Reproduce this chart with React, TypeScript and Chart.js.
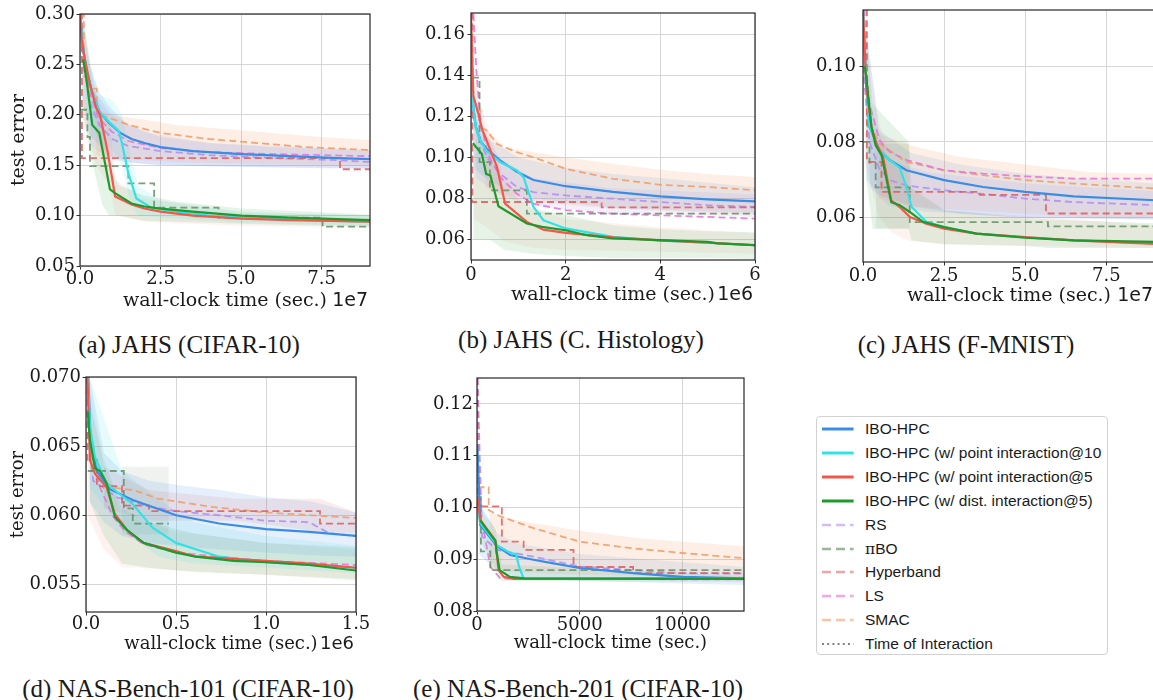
import React, { useEffect, useRef } from "react";
import { Chart, registerables } from "chart.js";

Chart.register(...registerables);

type Pt = [number, number];
type Bd = [number, number, number];
type Key = "ibo" | "p10" | "p5" | "d5" | "rs" | "pibo" | "hb" | "ls" | "smac";

// ---------------- texts ----------------
const SERIES_KEYS: Key[] = ["ibo", "p10", "p5", "d5", "rs", "pibo", "hb", "ls", "smac"];
const SERIES_LABELS: string[] = [
  "IBO-HPC",
  "IBO-HPC (w/ point interaction@10",
  "IBO-HPC (w/ point interaction@5",
  "IBO-HPC (w/ dist. interaction@5)",
  "RS",
  "πBO",
  "Hyperband",
  "LS",
  "SMAC",
];
const INTERACTION_LABEL = "Time of Interaction";
const X_TITLE = "wall-clock time (sec.)";
const Y_TITLE = "test error";
const CAPTIONS = [
  "(a) JAHS (CIFAR-10)",
  "(b) JAHS (C. Histology)",
  "(c) JAHS (F-MNIST)",
  "(d) NAS-Bench-101 (CIFAR-10)",
  "(e) NAS-Bench-201 (CIFAR-10)",
];

// ---------------- panel (a) JAHS CIFAR-10, x in 1e7 s ----------------
const A_X_TICKS = [0, 2.5, 5, 7.5];
const A_Y_TICKS = [0.05, 0.1, 0.15, 0.2, 0.25, 0.3];
const A_IBO: Pt[] = [[0,0.30],[0.08,0.27],[0.2,0.245],[0.35,0.225],[0.6,0.203],[0.9,0.192],[1.25,0.182],[1.6,0.176],[2.0,0.172],[2.5,0.168],[3.5,0.164],[5,0.161],[6.5,0.159],[8,0.157],[9,0.156]];
const A_P10: Pt[] = [[0,0.30],[0.08,0.27],[0.2,0.245],[0.35,0.225],[0.6,0.203],[0.9,0.193],[1.2,0.184],[1.3,0.172],[1.5,0.142],[1.75,0.117],[2.2,0.108],[3,0.104],[4,0.1],[5,0.098],[6.5,0.096],[9,0.094]];
const A_P5: Pt[] = [[0,0.30],[0.05,0.275],[0.15,0.255],[0.3,0.232],[0.5,0.207],[0.62,0.2],[0.85,0.165],[1.09,0.119],[1.6,0.111],[2.0,0.107],[2.5,0.104],[3.5,0.1],[5,0.097],[6.5,0.0955],[9,0.094]];
const A_D5: Pt[] = [[0.1,0.255],[0.2,0.235],[0.3,0.21],[0.38,0.19],[0.6,0.182],[0.93,0.126],[1.1,0.122],[1.6,0.112],[2.0,0.109],[2.5,0.107],[3.5,0.104],[5,0.1],[6.5,0.098],[7.5,0.097],[9,0.0955]];
const A_RS: Pt[] = [[0,0.3],[0.1,0.255],[0.3,0.213],[0.6,0.19],[1.0,0.176],[1.5,0.169],[2.5,0.164],[4,0.16],[6,0.157],[8,0.155],[9,0.153]];
const A_LS: Pt[] = [[0,0.3],[0.1,0.262],[0.3,0.222],[0.6,0.196],[1.0,0.183],[1.5,0.174],[2.5,0.167],[4,0.163],[6,0.161],[9,0.159]];
const A_SMAC: Pt[] = [[0,0.3],[0.12,0.3],[0.12,0.238],[0.26,0.238],[0.26,0.226],[0.52,0.226],[0.52,0.2],[1.0,0.196],[1.5,0.19],[2.5,0.182],[4,0.176],[5.5,0.172],[7,0.168],[9,0.165]];
const A_HB: Pt[] = [[0,0.3],[0.06,0.3],[0.06,0.157],[8.07,0.157],[8.07,0.146],[9,0.146]];
const A_PIBO: Pt[] = [[0,0.205],[0.23,0.205],[0.23,0.178],[0.31,0.178],[0.31,0.149],[1.5,0.149],[1.5,0.132],[2.3,0.132],[2.3,0.108],[4.3,0.108],[4.3,0.098],[7.53,0.098],[7.53,0.089],[9,0.089]];
const A_BAND_SMAC: Bd[] = [[0.5,0.16,0.205],[1,0.158,0.2],[2,0.155,0.195],[3,0.153,0.19],[4.5,0.152,0.186],[6,0.151,0.182],[7.5,0.15,0.178],[9,0.15,0.175]];
const A_BAND_IBO: Bd[] = [[0.05,0.22,0.3],[0.3,0.18,0.25],[0.6,0.17,0.222],[1,0.158,0.205],[1.5,0.153,0.19],[2.5,0.15,0.178],[4,0.149,0.172],[6,0.148,0.168],[9,0.147,0.165]];
const A_BAND_RS: Bd[] = [[0.3,0.17,0.23],[1,0.155,0.2],[2,0.151,0.183],[4,0.149,0.172],[9,0.146,0.165]];
const A_BAND_P10: Bd[] = [[0.2,0.2,0.26],[0.6,0.175,0.22],[1.0,0.165,0.215],[1.3,0.15,0.2],[1.5,0.12,0.17],[1.8,0.1,0.13],[2.5,0.098,0.115],[5,0.093,0.104],[9,0.09,0.1]];
const A_BAND_D5: Bd[] = [[0.1,0.2,0.3],[0.4,0.15,0.23],[0.7,0.11,0.2],[0.9,0.1,0.15],[1.2,0.1,0.13],[2,0.095,0.12],[3,0.094,0.114],[5,0.092,0.107],[9,0.089,0.101]];
const A_BAND_P5: Bd[] = [[0.05,0.2,0.3],[0.5,0.15,0.22],[0.9,0.13,0.2],[1.1,0.1,0.135],[2,0.094,0.117],[5,0.09,0.103],[9,0.088,0.1]];

// ---------------- panel (b) JAHS C. Histology, x in 1e6 s ----------------
const B_X_TICKS = [0, 2, 4, 6];
const B_Y_TICKS = [0.06, 0.08, 0.1, 0.12, 0.14, 0.16];
const B_IBO: Pt[] = [[0,0.135],[0.1,0.115],[0.2,0.108],[0.34,0.104],[0.62,0.0985],[0.97,0.093],[1.32,0.089],[2,0.086],[3,0.0832],[4,0.081],[5,0.0796],[6,0.0786]];
const B_P10: Pt[] = [[0,0.135],[0.1,0.115],[0.2,0.108],[0.34,0.103],[0.62,0.0977],[0.97,0.0937],[1.11,0.0904],[1.32,0.0759],[1.53,0.0694],[2,0.0654],[3,0.0613],[4,0.0595],[5,0.0585],[6,0.0572]];
const B_P5: Pt[] = [[0,0.17],[0.05,0.13],[0.16,0.121],[0.23,0.114],[0.3,0.11],[0.55,0.0953],[0.72,0.0775],[1.18,0.0686],[1.53,0.0648],[2,0.0632],[3,0.061],[4,0.0596],[5,0.0585],[6,0.0572]];
const B_D5: Pt[] = [[0.04,0.107],[0.23,0.1017],[0.32,0.092],[0.41,0.0912],[0.58,0.0762],[1.18,0.0678],[1.5,0.0662],[2,0.0645],[2.45,0.0621],[3,0.0605],[4,0.0597],[5,0.0588],[5.2,0.0581],[6,0.0573]];
const B_RS: Pt[] = [[0,0.125],[0.05,0.12],[0.2,0.108],[0.34,0.1],[0.62,0.092],[0.97,0.0856],[1.32,0.0831],[2,0.0815],[3,0.0799],[4,0.0783],[5,0.0767],[6,0.0759]];
const B_LS: Pt[] = [[0.05,0.17],[0.12,0.14],[0.2,0.118],[0.34,0.1026],[0.62,0.0904],[0.97,0.0823],[1.32,0.0775],[2,0.0743],[3,0.0726],[4,0.0718],[5,0.071],[6,0.0702]];
const B_SMAC: Pt[] = [[0.1,0.123],[0.2,0.123],[0.2,0.115],[0.34,0.113],[0.55,0.1066],[0.97,0.1026],[1.32,0.1001],[2,0.0945],[3,0.0896],[4,0.0867],[5,0.0856],[6,0.084]];
const B_HB: Pt[] = [[0,0.17],[0.03,0.17],[0.03,0.0783],[2.76,0.0783],[2.76,0.0757],[6,0.0757]];
const B_PIBO: Pt[] = [[0.02,0.139],[0.18,0.139],[0.18,0.0977],[0.4,0.0977],[0.4,0.084],[1.18,0.084],[1.18,0.0726],[6,0.0726]];
const B_BAND_SMAC: Bd[] = [[0.3,0.085,0.115],[0.7,0.082,0.105],[1.5,0.078,0.102],[2,0.077,0.1],[3,0.075,0.097],[4,0.074,0.094],[5,0.073,0.092],[6,0.072,0.0905]];
const B_BAND_IBO: Bd[] = [[0.05,0.095,0.135],[0.3,0.09,0.11],[1,0.081,0.1],[2,0.078,0.095],[3,0.0755,0.092],[4,0.0745,0.09],[6,0.073,0.0855]];
const B_BAND_RS: Bd[] = [[0.1,0.09,0.12],[0.6,0.082,0.1],[1.3,0.076,0.09],[3,0.073,0.085],[6,0.071,0.082]];
const B_BAND_D5: Bd[] = [[0.05,0.06,0.12],[0.4,0.06,0.1],[0.7,0.055,0.085],[1.3,0.053,0.075],[2,0.052,0.072],[3,0.051,0.067],[4,0.051,0.065],[5,0.051,0.064],[6,0.0505,0.0635]];
const B_BAND_P5: Bd[] = [[0.05,0.07,0.14],[0.4,0.065,0.11],[0.7,0.059,0.09],[1.3,0.056,0.075],[2,0.055,0.07],[4,0.054,0.066],[6,0.053,0.063]];

// ---------------- panel (c) JAHS F-MNIST, x in 1e7 s ----------------
const C_X_TICKS = [0, 2.5, 5, 7.5];
const C_Y_TICKS = [0.06, 0.08, 0.1];
const C_IBO: Pt[] = [[0,0.115],[0.1,0.095],[0.2,0.084],[0.51,0.0778],[0.82,0.0752],[1.34,0.0725],[2.5,0.0699],[3.7,0.0681],[5,0.0668],[6.5,0.0656],[9,0.0646]];
const C_P10: Pt[] = [[0,0.115],[0.1,0.095],[0.2,0.084],[0.51,0.0778],[0.82,0.0752],[1.13,0.0732],[1.3,0.069],[1.5,0.0628],[1.95,0.0589],[2.5,0.0575],[3.5,0.0558],[5,0.0548],[6.5,0.054],[9,0.0532]];
const C_P5: Pt[] = [[0,0.115],[0.1,0.0945],[0.26,0.084],[0.41,0.0796],[0.62,0.076],[0.87,0.0646],[1.13,0.0628],[1.44,0.0602],[1.95,0.0584],[2.5,0.0571],[3.5,0.0558],[5,0.0549],[6.5,0.054],[9,0.0531]];
const C_D5: Pt[] = [[0.05,0.1],[0.1,0.0972],[0.26,0.084],[0.39,0.0791],[0.57,0.0765],[0.87,0.0641],[1.13,0.0633],[1.44,0.0615],[1.85,0.0589],[2.5,0.0575],[3.5,0.0558],[5,0.0547],[6.5,0.054],[9,0.0536]];
const C_RS: Pt[] = [[0,0.1],[0.2,0.08],[0.5,0.073],[0.82,0.0699],[1.34,0.0685],[2.5,0.0672],[3.7,0.0663],[5,0.065],[6.5,0.0641],[9,0.0633]];
const C_LS: Pt[] = [[0.05,0.115],[0.1,0.1],[0.2,0.09],[0.51,0.0804],[0.82,0.0774],[1.34,0.0752],[2.5,0.0725],[3.7,0.0716],[5,0.0709],[6.5,0.0703],[9,0.0703]];
const C_SMAC: Pt[] = [[0.2,0.085],[0.51,0.0796],[1.34,0.0747],[2.5,0.0725],[3.7,0.0712],[5,0.0699],[6.5,0.069],[9,0.0677]];
const C_HB: Pt[] = [[0.12,0.115],[0.12,0.0747],[0.57,0.0747],[0.57,0.0668],[3.6,0.0668],[3.6,0.066],[5.64,0.066],[5.64,0.0611],[9,0.0611]];
const C_PIBO: Pt[] = [[0,0.08],[0.2,0.08],[0.2,0.0745],[0.39,0.0745],[0.39,0.068],[1.44,0.068],[1.44,0.0588],[5.7,0.0588],[5.7,0.0577],[9,0.0577]];
const C_BAND_SMAC: Bd[] = [[0.5,0.065,0.082],[1.5,0.063,0.079],[3,0.062,0.076],[5,0.061,0.074],[7,0.06,0.072],[9,0.06,0.0715]];
const C_BAND_IBO: Bd[] = [[0.1,0.07,0.11],[0.5,0.066,0.083],[1.5,0.063,0.077],[3,0.061,0.074],[5,0.06,0.0715],[9,0.0595,0.069]];
const C_BAND_RS: Bd[] = [[0.2,0.068,0.09],[0.8,0.063,0.075],[2,0.0615,0.072],[5,0.06,0.069],[9,0.0595,0.067]];
const C_BAND_PIBO: Bd[] = [[0.39,0.0572,0.0795],[1.44,0.0572,0.0795]];
const C_BAND_D5: Bd[] = [[0.1,0.07,0.11],[0.3,0.057,0.09],[1.4,0.057,0.08],[1.5,0.054,0.068],[2.5,0.053,0.062],[5,0.0525,0.06],[5.7,0.052,0.0595],[9,0.052,0.0585]];
const C_BAND_P5: Bd[] = [[0.05,0.075,0.11],[0.5,0.06,0.085],[0.9,0.056,0.075],[1.4,0.054,0.068],[2.5,0.053,0.062],[9,0.052,0.058]];

// ---------------- panel (d) NAS-Bench-101, x in 1e6 s ----------------
const D_X_TICKS = [0, 0.5, 1, 1.5];
const D_Y_TICKS = [0.055, 0.06, 0.065, 0.07];
const D_IBO: Pt[] = [[0.013,0.07],[0.026,0.0652],[0.06,0.0632],[0.13,0.0619],[0.26,0.0611],[0.5,0.06],[0.74,0.0594],[1.0,0.059],[1.24,0.0588],[1.5,0.0585]];
const D_P10: Pt[] = [[0.01,0.07],[0.022,0.0664],[0.05,0.0642],[0.115,0.0623],[0.19,0.0615],[0.26,0.0608],[0.37,0.0591],[0.5,0.058],[0.74,0.057],[1.0,0.0566],[1.24,0.0564],[1.5,0.0562]];
const D_P5: Pt[] = [[0.008,0.07],[0.022,0.064],[0.05,0.063],[0.115,0.062],[0.16,0.0601],[0.23,0.0589],[0.32,0.058],[0.5,0.0574],[0.61,0.057],[1.0,0.0567],[1.24,0.0565],[1.5,0.0562]];
const D_D5: Pt[] = [[0.01,0.0675],[0.022,0.0654],[0.05,0.0634],[0.078,0.0632],[0.115,0.0623],[0.16,0.0599],[0.23,0.0589],[0.32,0.058],[0.5,0.0573],[0.61,0.057],[0.82,0.0567],[1.0,0.0566],[1.24,0.0564],[1.5,0.056]];
const D_RS: Pt[] = [[0.01,0.066],[0.04,0.0625],[0.17,0.0613],[0.36,0.0606],[0.5,0.0603],[0.74,0.06],[1.0,0.0596],[1.24,0.0595],[1.35,0.0587],[1.5,0.0585]];
const D_LS: Pt[] = [[0.01,0.07],[0.022,0.0652],[0.078,0.062],[0.15,0.0599],[0.22,0.0588],[0.32,0.0579],[0.5,0.0573],[0.74,0.057],[1.0,0.0567],[1.5,0.0564]];
const D_SMAC: Pt[] = [[0.01,0.0685],[0.03,0.064],[0.1,0.0625],[0.15,0.062],[0.27,0.0618],[0.4,0.0612],[0.7,0.0606],[1.0,0.0602],[1.5,0.0598]];
const D_HB: Pt[] = [[0.008,0.07],[0.008,0.064],[0.06,0.064],[0.06,0.0621],[0.2,0.0621],[0.2,0.0607],[0.35,0.0607],[0.35,0.0603],[1.3,0.0603],[1.3,0.0594],[1.5,0.0594]];
const D_PIBO: Pt[] = [[0.01,0.0632],[0.21,0.0632],[0.21,0.0605],[0.26,0.0605],[0.26,0.0594],[0.46,0.0594]];
const D_BAND_IBO: Bd[] = [[0.02,0.061,0.07],[0.1,0.0595,0.0645],[0.2,0.0585,0.0632],[0.35,0.058,0.0625],[0.5,0.0578,0.0622],[0.75,0.0575,0.0618],[1.0,0.0573,0.0613],[1.25,0.0571,0.061],[1.5,0.057,0.0602]];
const D_BAND_HB: Bd[] = [[0.1,0.0605,0.0635],[0.35,0.0596,0.0618],[0.84,0.0596,0.0612],[1.3,0.0588,0.0612],[1.5,0.0587,0.0602]];
const D_BAND_PIBO: Bd[] = [[0.2,0.0586,0.0635],[0.46,0.0586,0.0635]];
const D_BAND_D5: Bd[] = [[0.02,0.061,0.068],[0.1,0.0585,0.064],[0.2,0.0565,0.0605],[0.35,0.0562,0.0595],[0.6,0.0559,0.0587],[1.0,0.0557,0.058],[1.5,0.0553,0.0577]];
const D_BAND_P10: Bd[] = [[0.02,0.062,0.07],[0.2,0.059,0.0632],[0.4,0.057,0.0612],[0.6,0.0565,0.0595],[1.0,0.0562,0.0585],[1.5,0.0558,0.0578]];
const D_BAND_P5: Bd[] = [[0.01,0.06,0.07],[0.1,0.0575,0.0635],[0.2,0.0563,0.06],[0.5,0.056,0.0588],[1.0,0.0557,0.058],[1.5,0.0554,0.0575]];

// ---------------- panel (e) NAS-Bench-201, x in s ----------------
const E_X_TICKS = [0, 5000, 10000];
const E_Y_TICKS = [0.08, 0.09, 0.1, 0.11, 0.12];
const E_IBO: Pt[] = [[20,0.112],[160,0.0966],[970,0.0925],[1620,0.0908],[2750,0.0899],[3720,0.0892],[5000,0.0883],[7600,0.0873],[10000,0.0866],[13000,0.0863]];
const E_P10: Pt[] = [[20,0.1],[160,0.097],[970,0.0927],[1620,0.0912],[1900,0.091],[2050,0.0885],[2270,0.0863],[13000,0.0862]];
const E_P5: Pt[] = [[20,0.102],[160,0.0976],[890,0.0937],[1050,0.0879],[1300,0.0866],[1780,0.0862],[13000,0.0862]];
const E_D5: Pt[] = [[150,0.0975],[900,0.0935],[950,0.0915],[1100,0.0879],[1600,0.0866],[2300,0.0863],[13000,0.0862]];
const E_RS: Pt[] = [[20,0.125],[250,0.0944],[970,0.0918],[2750,0.0905],[5000,0.0886],[7600,0.0879],[10000,0.0873],[13000,0.0872]];
const E_LS: Pt[] = [[20,0.125],[160,0.099],[650,0.0886],[1130,0.0863],[2000,0.0862],[13000,0.0861]];
const E_SMAC: Pt[] = [[20,0.1039],[570,0.1039],[570,0.0995],[1130,0.0983],[2750,0.096],[5000,0.0934],[7600,0.0921],[10000,0.0912],[13000,0.0902]];
const E_HB: Pt[] = [[20,0.125],[20,0.1002],[1210,0.1002],[1210,0.0934],[2270,0.0934],[2270,0.0918],[4700,0.0918],[4700,0.0885],[7600,0.0885],[7600,0.0873],[13000,0.0873]];
const E_PIBO: Pt[] = [[20,0.102],[190,0.102],[190,0.0915],[650,0.0915],[650,0.0879],[13000,0.0879]];
const E_BAND_SMAC: Bd[] = [[600,0.088,0.099],[2000,0.0875,0.0975],[5000,0.087,0.0955],[8000,0.0868,0.094],[13000,0.0865,0.0925]];
const E_BAND_IBO: Bd[] = [[100,0.091,0.101],[1000,0.0875,0.095],[2000,0.0865,0.093],[5000,0.0858,0.091],[13000,0.085,0.0885]];
const E_BAND_D5: Bd[] = [[100,0.094,0.1],[900,0.088,0.096],[1200,0.0858,0.089],[13000,0.0856,0.0868]];

// ---------------- styles ----------------
const LINE_COLOR: Record<Key, string> = {
  ibo: "#3a8de6",
  p10: "#33e2e6",
  p5: "#f4564c",
  d5: "#1e9a2c",
  rs: "rgba(178,144,240,0.9)",
  pibo: "rgba(100,145,100,0.85)",
  hb: "rgba(222,92,92,0.85)",
  ls: "rgba(230,120,216,0.9)",
  smac: "rgba(242,158,108,0.9)",
};
const LEGEND_COLOR: Record<Key, string> = {
  ibo: "#3a8de6",
  p10: "#33e2e6",
  p5: "#f4564c",
  d5: "#1e9a2c",
  rs: "rgba(178,144,240,0.6)",
  pibo: "rgba(100,145,100,0.65)",
  hb: "rgba(222,92,92,0.55)",
  ls: "rgba(230,120,216,0.65)",
  smac: "rgba(242,158,108,0.6)",
};
const BAND_COLOR: Record<Key, string> = {
  ibo: "rgba(58,141,230,0.13)",
  p10: "rgba(51,226,230,0.12)",
  p5: "rgba(244,86,76,0.08)",
  d5: "rgba(30,154,44,0.11)",
  rs: "rgba(150,120,240,0.11)",
  pibo: "rgba(100,130,100,0.1)",
  hb: "rgba(222,92,92,0.12)",
  ls: "rgba(230,120,216,0.1)",
  smac: "rgba(242,158,108,0.17)",
};
const ORDER: Record<Key, number> = { d5: 1, p5: 2, p10: 3, ibo: 4, hb: 10, pibo: 11, ls: 12, rs: 13, smac: 14 };
const SOLID: Record<Key, boolean> = { ibo: true, p10: true, p5: true, d5: true, rs: false, pibo: false, hb: false, ls: false, smac: false };

const YW = 80;
const PT = 16;
const PR = 40;
const XH = 50;
const TICK_LEN = 3.5;

interface Panel {
  left: number; top: number; right: number; bottom: number;
  xMin: number; xMax: number; yMin: number; yMax: number;
  xTicks: number[]; yTicks: number[]; xDec: number; yDec: number;
  yTitle?: string; yTitleX?: number; offsetText?: string;
  labelSize: number; xTickPad: number; yTickPad: number; xTitleOffset: number;
  lines: [Key, Pt[]][]; bands: [Key, Bd[]][];
}

const PANELS: Panel[] = [
  {
    left: 80, top: 14, right: 370, bottom: 266, xMin: 0, xMax: 9, yMin: 0.05, yMax: 0.3,
    xTicks: A_X_TICKS, yTicks: A_Y_TICKS, xDec: 1, yDec: 2, yTitle: Y_TITLE, yTitleX: 19.5, offsetText: "1e7",
    labelSize: 19, xTickPad: -1, yTickPad: 1.5, xTitleOffset: 35.5,
    lines: [["hb", A_HB], ["pibo", A_PIBO], ["ls", A_LS], ["rs", A_RS], ["smac", A_SMAC], ["ibo", A_IBO], ["p10", A_P10], ["p5", A_P5], ["d5", A_D5]],
    bands: [["smac", A_BAND_SMAC], ["ibo", A_BAND_IBO], ["rs", A_BAND_RS], ["p10", A_BAND_P10], ["d5", A_BAND_D5], ["p5", A_BAND_P5]],
  },
  {
    left: 471, top: 13, right: 755, bottom: 260, xMin: 0, xMax: 6, yMin: 0.05, yMax: 0.1705,
    xTicks: B_X_TICKS, yTicks: B_Y_TICKS, xDec: 0, yDec: 2, offsetText: "1e6",
    labelSize: 19, xTickPad: 0.7, yTickPad: 2.5, xTitleOffset: 35,
    lines: [["hb", B_HB], ["pibo", B_PIBO], ["ls", B_LS], ["rs", B_RS], ["smac", B_SMAC], ["ibo", B_IBO], ["p10", B_P10], ["p5", B_P5], ["d5", B_D5]],
    bands: [["smac", B_BAND_SMAC], ["ibo", B_BAND_IBO], ["rs", B_BAND_RS], ["d5", B_BAND_D5], ["p5", B_BAND_P5]],
  },
  {
    left: 863, top: 10, right: 1155, bottom: 262, xMin: 0, xMax: 9, yMin: 0.0483, yMax: 0.1148,
    xTicks: C_X_TICKS, yTicks: C_Y_TICKS, xDec: 1, yDec: 2, offsetText: "1e7",
    labelSize: 19, xTickPad: 0.5, yTickPad: 3.5, xTitleOffset: 34,
    lines: [["hb", C_HB], ["pibo", C_PIBO], ["ls", C_LS], ["rs", C_RS], ["smac", C_SMAC], ["ibo", C_IBO], ["p10", C_P10], ["p5", C_P5], ["d5", C_D5]],
    bands: [["smac", C_BAND_SMAC], ["ibo", C_BAND_IBO], ["rs", C_BAND_RS], ["pibo", C_BAND_PIBO], ["d5", C_BAND_D5], ["p5", C_BAND_P5]],
  },
  {
    left: 86, top: 377, right: 356, bottom: 612, xMin: 0, xMax: 1.5, yMin: 0.053, yMax: 0.07,
    xTicks: D_X_TICKS, yTicks: D_Y_TICKS, xDec: 1, yDec: 3, yTitle: Y_TITLE, yTitleX: 18.5, offsetText: "1e6",
    labelSize: 18, xTickPad: -2, yTickPad: 1.5, xTitleOffset: 32,
    lines: [["hb", D_HB], ["pibo", D_PIBO], ["ls", D_LS], ["rs", D_RS], ["smac", D_SMAC], ["ibo", D_IBO], ["p10", D_P10], ["p5", D_P5], ["d5", D_D5]],
    bands: [["ibo", D_BAND_IBO], ["hb", D_BAND_HB], ["pibo", D_BAND_PIBO], ["p10", D_BAND_P10], ["d5", D_BAND_D5], ["p5", D_BAND_P5]],
  },
  {
    left: 477, top: 378, right: 744, bottom: 611, xMin: 0, xMax: 13000, yMin: 0.08, yMax: 0.125,
    xTicks: E_X_TICKS, yTicks: E_Y_TICKS, xDec: 0, yDec: 2,
    labelSize: 18, xTickPad: -0.3, yTickPad: 0.5, xTitleOffset: 32.3,
    lines: [["hb", E_HB], ["pibo", E_PIBO], ["ls", E_LS], ["rs", E_RS], ["smac", E_SMAC], ["ibo", E_IBO], ["p10", E_P10], ["p5", E_P5], ["d5", E_D5]],
    bands: [["smac", E_BAND_SMAC], ["ibo", E_BAND_IBO], ["d5", E_BAND_D5]],
  },
];

const CAPTION_POS: [number, number][] = [[189, 345], [581, 340], [966, 345], [188, 689], [578, 689]];

const TEXT_COLOR = "#1a1a1a";

const framePlugin = {
  id: "frame",
  afterDraw(chart: any, _args: any, opts: any) {
    const { ctx, chartArea } = chart;
    const { left, top, right, bottom } = chartArea;
    ctx.save();
    ctx.strokeStyle = "#262626";
    ctx.lineWidth = 1.2;
    ctx.strokeRect(left, top, right - left, bottom - top);
    if (opts && opts.offsetText) {
      ctx.font = `${opts.size}px "DejaVu Sans"`;
      ctx.fillStyle = TEXT_COLOR;
      ctx.textAlign = "right";
      ctx.textBaseline = "middle";
      ctx.fillText(opts.offsetText, right - 2, bottom + opts.offsetY);
    }
    ctx.restore();
  },
};

function PanelChart({ p }: { p: Panel }) {
  const ref = useRef<HTMLCanvasElement | null>(null);
  const cw = YW + (p.right - p.left) + PR;
  const ch = PT + (p.bottom - p.top) + XH;
  useEffect(() => {
    if (!ref.current) return;
    const datasets: any[] = [];
    let bo = 100;
    p.bands.forEach(([k, rows]) => {
      datasets.push({
        data: rows.map((r) => ({ x: r[0], y: r[2] })),
        fill: "+1", backgroundColor: BAND_COLOR[k], borderColor: "rgba(0,0,0,0)", borderWidth: 0,
        pointRadius: 0, order: bo++,
      });
      datasets.push({
        data: rows.map((r) => ({ x: r[0], y: r[1] })),
        fill: false, borderColor: "rgba(0,0,0,0)", borderWidth: 0, pointRadius: 0, order: bo++,
      });
    });
    p.lines.forEach(([k, pts]) => {
      datasets.push({
        data: pts.map((q) => ({ x: q[0], y: q[1] })),
        borderColor: LINE_COLOR[k],
        borderWidth: SOLID[k] ? 2.2 : 1.8,
        borderDash: SOLID[k] ? [] : [7, 4],
        fill: false, pointRadius: 0, order: ORDER[k], tension: 0,
      });
    });
    const tickFont = { family: "'DejaVu Serif'", size: 18 };
    const labelFont = { family: "'DejaVu Serif'", size: p.labelSize };
    const lh = p.labelSize * 1.2;
    const grid = { color: "#d6d6d6", lineWidth: 1, drawTicks: true, tickLength: TICK_LEN, tickColor: "#333333", tickWidth: 1 };
    const chart = new Chart(ref.current, {
      type: "line",
      data: { datasets },
      options: {
        animation: false,
        responsive: false,
        maintainAspectRatio: false,
        events: [],
        layout: { padding: { left: 0, top: PT, right: PR, bottom: 0 } },
        plugins: {
          legend: { display: false },
          tooltip: { enabled: false },
          frame: { offsetText: p.offsetText, offsetY: p.xTitleOffset, size: p.labelSize },
        } as any,
        scales: {
          x: {
            type: "linear",
            min: p.xMin,
            max: p.xMax,
            afterBuildTicks: (s: any) => { s.ticks = p.xTicks.map((v) => ({ value: v })); },
            afterFit: (s: any) => { s.height = XH; },
            ticks: {
              callback: (v: any) => Number(v).toFixed(p.xDec),
              font: tickFont, color: TEXT_COLOR, padding: p.xTickPad, maxRotation: 0, autoSkip: false,
            },
            grid,
            border: { display: false },
            title: {
              display: true, text: X_TITLE, font: labelFont, color: TEXT_COLOR,
              padding: { top: 0, bottom: XH - lh / 2 - p.xTitleOffset },
            },
          },
          y: {
            type: "linear",
            min: p.yMin,
            max: p.yMax,
            afterBuildTicks: (s: any) => { s.ticks = p.yTicks.map((v) => ({ value: v })); },
            afterFit: (s: any) => { s.width = YW; },
            ticks: {
              callback: (v: any) => Number(v).toFixed(p.yDec),
              font: tickFont, color: TEXT_COLOR, padding: p.yTickPad, autoSkip: false,
            },
            grid,
            border: { display: false },
            title: p.yTitle
              ? {
                  display: true, text: p.yTitle, font: labelFont, color: TEXT_COLOR,
                  padding: { top: (p.yTitleX || 0) - (p.left - YW) - lh / 2, bottom: 0 },
                }
              : { display: false },
          },
        } as any,
      },
      plugins: [framePlugin as any],
    });
    return () => chart.destroy();
  }, [p]);
  return (
    <canvas
      ref={ref}
      width={cw}
      height={ch}
      style={{ position: "absolute", left: p.left - YW, top: p.top - PT, width: cw, height: ch }}
    />
  );
}

function Legend() {
  const rows = SERIES_KEYS.map((k, i) => ({
    label: SERIES_LABELS[i],
    color: LEGEND_COLOR[k],
    dash: SOLID[k] ? undefined : "9 5",
    w: SOLID[k] ? 3 : 2.6,
  }));
  rows.push({ label: INTERACTION_LABEL, color: "rgba(110,110,110,0.85)", dash: "2 3.2", w: 2.2 });
  return (
    <div
      style={{
        position: "absolute", left: 816, top: 416, width: 292, height: 239,
        border: "1px solid #d2d2d2", borderRadius: 4, boxSizing: "border-box", background: "#fff",
      }}
    >
      {rows.map((r, i) => {
        const cy = 12 + i * 23.9;
        return (
          <div key={i} style={{ position: "absolute", left: 0, top: cy - 10, height: 20, width: "100%" }}>
            <svg width={34} height={20} style={{ position: "absolute", left: 4.7, top: 0 }}>
              <line x1={0} y1={10} x2={31.6} y2={10} stroke={r.color} strokeWidth={r.w} strokeDasharray={r.dash} />
            </svg>
            <span
              style={{
                position: "absolute", left: 48, top: 0, lineHeight: "20px",
                fontFamily: "'Liberation Sans', Arial, sans-serif", fontSize: 15.5, color: TEXT_COLOR, whiteSpace: "nowrap",
              }}
            >
              {r.label.startsWith("π") ? (
                <>
                  <span style={{ fontFamily: "'DejaVu Serif', serif" }}>π</span>
                  {r.label.slice(1)}
                </>
              ) : (
                r.label
              )}
            </span>
          </div>
        );
      })}
    </div>
  );
}

export default function App() {
  return (
    <div
      style={{
        position: "fixed", left: 0, top: 0, width: 1153, height: 700, overflow: "hidden", background: "#ffffff",
      }}
    >
      {PANELS.map((p, i) => (
        <PanelChart key={i} p={p} />
      ))}
      {CAPTIONS.map((c, i) => (
        <div
          key={"cap" + i}
          style={{
            position: "absolute", left: CAPTION_POS[i][0], top: CAPTION_POS[i][1] - 15, transform: "translateX(-50%)",
            fontFamily: "'Liberation Serif', 'Times New Roman', serif", fontSize: 25, lineHeight: "30px",
            color: TEXT_COLOR, whiteSpace: "nowrap",
          }}
        >
          {c}
        </div>
      ))}
      <Legend />
    </div>
  );
}
